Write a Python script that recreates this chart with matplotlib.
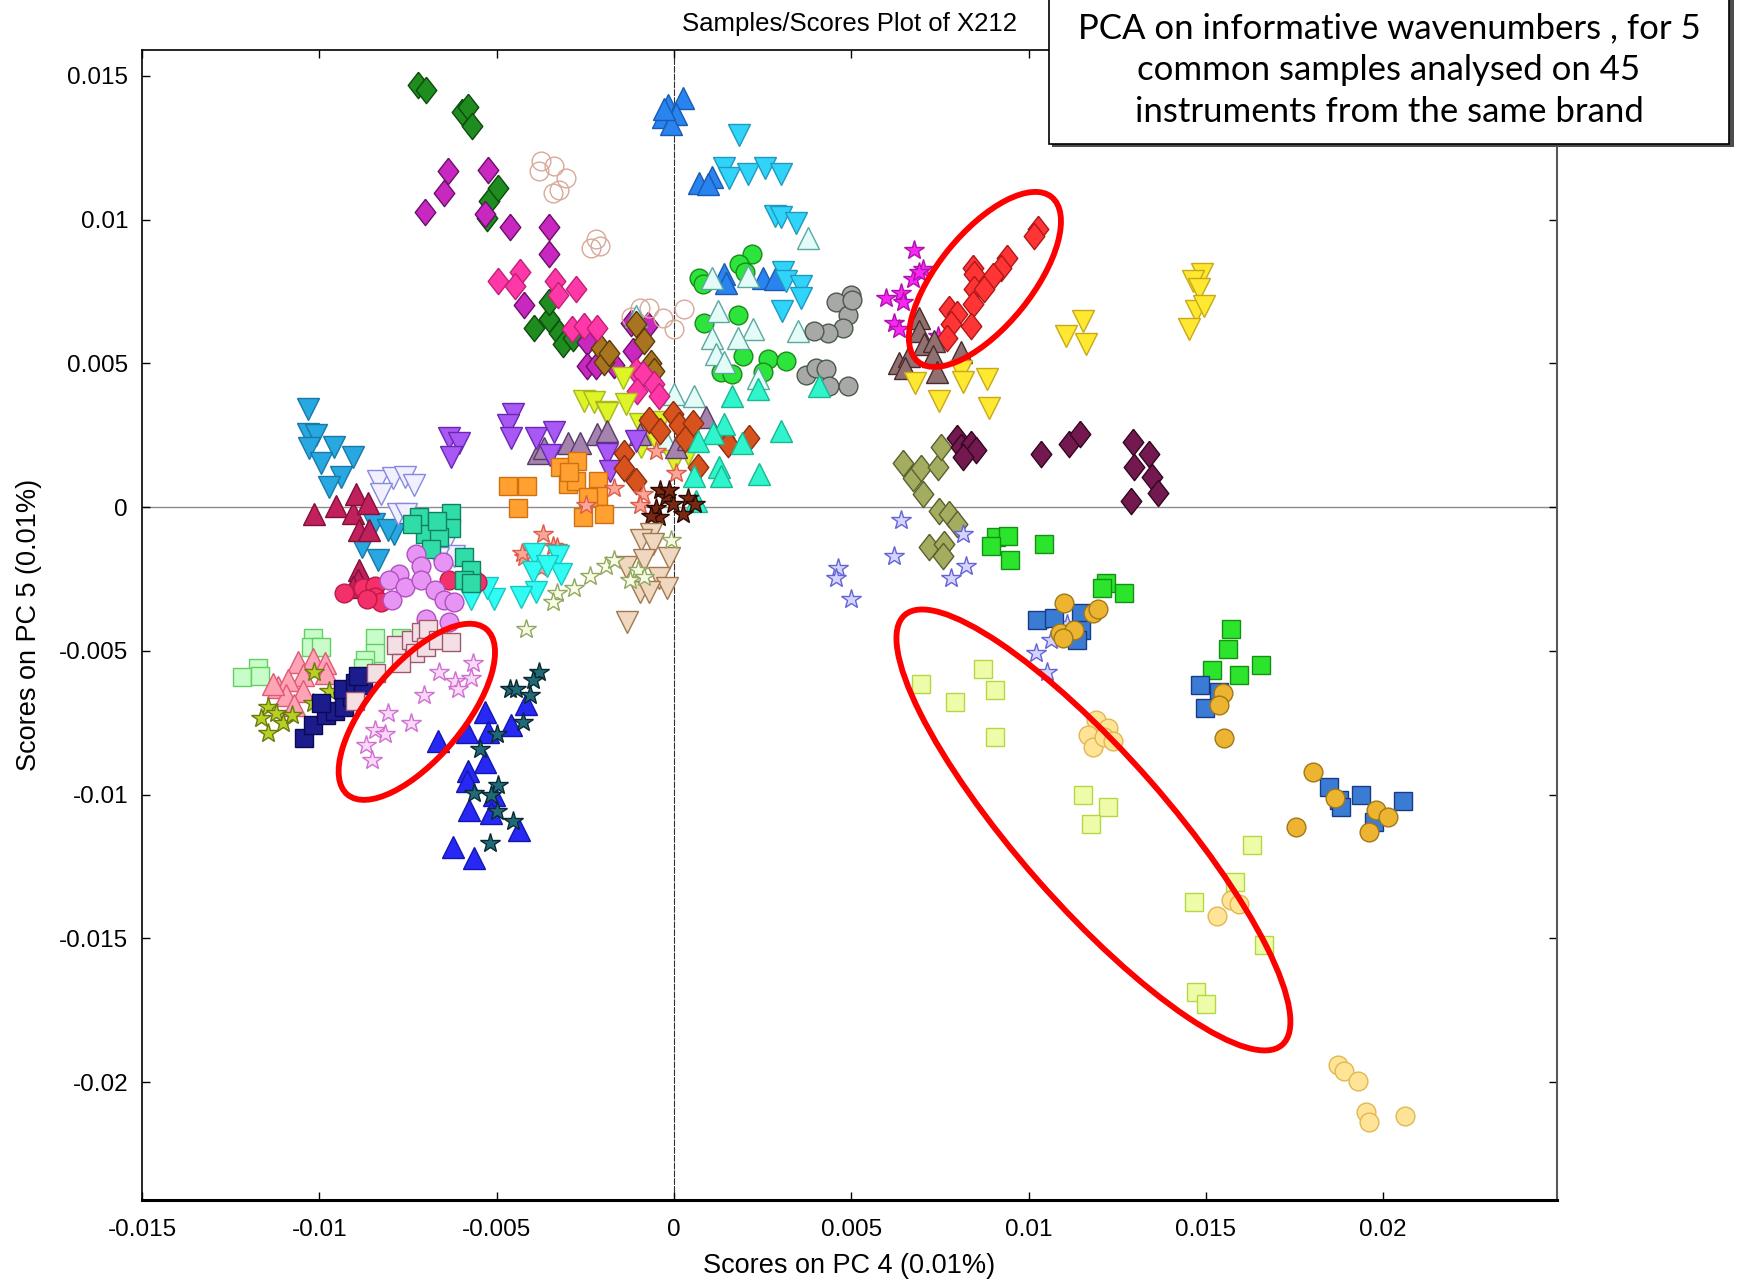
import numpy as np
import matplotlib
matplotlib.use("Agg")
import matplotlib.pyplot as plt
from matplotlib.patches import Ellipse, Rectangle
from matplotlib.transforms import IdentityTransform

# ---- data (scores on PC4 / PC5), one list pair per instrument group ----
dkgreen_dia_x = [-0.00722, -0.00700, -0.00597, -0.00581, -0.00569, -0.00522, -0.00497, -0.00528,
                 -0.00394, -0.00353, -0.00353, -0.00325, -0.00313, -0.00284]
dkgreen_dia_y = [0.01469, 0.01450, 0.01373, 0.01392, 0.01327, 0.01065, 0.01111, 0.01004,
                 0.00623, 0.00654, 0.00712, 0.00604, 0.00569, 0.00588]
magenta_dia_x = [-0.00703, -0.00638, -0.00647, -0.00525, -0.00534, -0.00463, -0.00353, -0.00353,
                 -0.00422, -0.00244, -0.00244, -0.00219, -0.00169, -0.00116, -0.00072, -0.00122]
magenta_dia_y = [0.01027, 0.01169, 0.01092, 0.01173, 0.01019, 0.00973, 0.00973, 0.00881,
                 0.00704, 0.00573, 0.00492, 0.00492, 0.00496, 0.00542, 0.00635, 0.00642]
pink_dia_x = [-0.00497, -0.00434, -0.00447, -0.00334, -0.00275, -0.00328, -0.00288, -0.00253,
              -0.00216, -0.00106, -0.00088, -0.00103, -0.00056, -0.00041]
pink_dia_y = [0.00785, 0.00819, 0.00769, 0.00785, 0.00758, 0.00738, 0.00619, 0.00631,
              0.00623, 0.00473, 0.00462, 0.00404, 0.00427, 0.00388]
brown_dia_x = [-0.00106, -0.00084, -0.00066, -0.00056, -0.00206, -0.00197, -0.00184]
brown_dia_y = [0.00638, 0.00577, 0.00500, 0.00473, 0.00554, 0.00504, 0.00535]
orred_dia_x = [-0.00003, 0.00013, 0.00053, -0.00141, -0.00141, -0.00106, 0.00069, 0.00141,
               0.00153, 0.00213, -0.00069, -0.00038, 0.00031]
orred_dia_y = [0.00323, 0.00285, 0.00292, 0.00188, 0.00135, 0.00092, 0.00138, 0.00242,
               0.00219, 0.00242, 0.00304, 0.00265, 0.00238]
red_dia_x = [0.01028, 0.01016, 0.00938, 0.00922, 0.00900, 0.00844, 0.00847, 0.00847,
             0.00875, 0.00844, 0.00775, 0.00797, 0.00781, 0.00838, 0.00769]
red_dia_y = [0.00969, 0.00942, 0.00865, 0.00831, 0.00804, 0.00831, 0.00812, 0.00758,
             0.00758, 0.00708, 0.00688, 0.00673, 0.00638, 0.00631, 0.00588]
plum_dia_x = [0.01034, 0.01113, 0.01144, 0.01294, 0.01341, 0.01297, 0.01347, 0.01366, 0.01288,
              0.00797, 0.00809, 0.00838, 0.00853, 0.00816]
plum_dia_y = [0.00185, 0.00219, 0.00254, 0.00227, 0.00185, 0.00138, 0.00104, 0.00050, 0.00023,
              0.00242, 0.00208, 0.00219, 0.00200, 0.00173]
olive_dia_x = [0.00647, 0.00675, 0.00697, 0.00744, 0.00753, 0.00703, 0.00747, 0.00775, 0.00797,
               0.00719, 0.00763, 0.00759]
olive_dia_y = [0.00154, 0.00100, 0.00135, 0.00138, 0.00208, 0.00046, -0.00012, -0.00023, -0.00058,
               -0.00138, -0.00127, -0.00169]
blue_up_x = [-0.00016, 0.00025, -0.00031, 0.00006, -0.00009, -0.00028, 0.00072, 0.00106, 0.00097,
             0.00141, 0.00147, 0.00250, 0.00284]
blue_up_y = [0.01400, 0.01423, 0.01358, 0.01369, 0.01331, 0.01385, 0.01127, 0.01150, 0.01123,
             0.00812, 0.00781, 0.00796, 0.00792]
sky_down_x = [0.00184, 0.00141, 0.00156, 0.00209, 0.00256, 0.00303, 0.00284, 0.00303, 0.00344,
              0.00309, 0.00316, 0.00359, 0.00359, 0.00306]
sky_down_y = [0.01296, 0.01181, 0.01146, 0.01158, 0.01181, 0.01158, 0.01012, 0.01008, 0.00988,
              0.00819, 0.00788, 0.00769, 0.00727, 0.00681]
paleteal_up_x = [0.00378, 0.00106, 0.00209, 0.00125, 0.00222, 0.00106, 0.00181, 0.00119, 0.00141,
                 0.00350, -0.00106, 0.00000, 0.00056, -0.00022, 0.00238]
paleteal_up_y = [0.00935, 0.00796, 0.00804, 0.00681, 0.00619, 0.00588, 0.00588, 0.00531, 0.00504,
                 0.00612, 0.00665, 0.00392, 0.00388, 0.00231, 0.00450]
green_circ_x = [0.00072, 0.00081, 0.00219, 0.00184, 0.00200, 0.00181, 0.00084, 0.00194, 0.00266,
                0.00316, 0.00250, 0.00134, 0.00163]
green_circ_y = [0.00796, 0.00777, 0.00881, 0.00846, 0.00819, 0.00669, 0.00642, 0.00527, 0.00515,
                0.00508, 0.00469, 0.00469, 0.00462]
gray_circ_x = [0.00500, 0.00456, 0.00491, 0.00478, 0.00434, 0.00394, 0.00372, 0.00400, 0.00428,
               0.00438, 0.00491, 0.00503]
gray_circ_y = [0.00738, 0.00715, 0.00669, 0.00623, 0.00604, 0.00612, 0.00458, 0.00485, 0.00481,
               0.00423, 0.00423, 0.00719]
open_circ_x = [-0.00375, -0.00338, -0.00303, -0.00381, -0.00341, -0.00325, -0.00219, -0.00234,
               -0.00209, -0.00097, -0.00069, -0.00031, 0.00000, 0.00028, -0.00122]
open_circ_y = [0.01204, 0.01185, 0.01146, 0.01169, 0.01092, 0.01104, 0.00931, 0.00900,
               0.00908, 0.00692, 0.00692, 0.00658, 0.00619, 0.00688, 0.00662]
lime_down_x = [-0.00144, -0.00253, -0.00225, -0.00191, -0.00134, -0.00097, -0.00066, -0.00094,
               0.00000, 0.00041, -0.00188, -0.00053, -0.00038]
lime_down_y = [0.00450, 0.00369, 0.00365, 0.00331, 0.00358, 0.00288, 0.00277, 0.00208,
               0.00162, 0.00185, 0.00327, 0.00238, 0.00296]
purple_down_x = [-0.00634, -0.00606, -0.00628, -0.00453, -0.00469, -0.00459, -0.00388, -0.00338,
                 -0.00350, -0.00188, -0.00181, -0.00106]
purple_down_y = [0.00242, 0.00223, 0.00173, 0.00323, 0.00285, 0.00242, 0.00242, 0.00262,
                 0.00181, 0.00185, 0.00127, 0.00231]
mauve_up_x = [-0.00384, -0.00366, -0.00300, -0.00266, -0.00216, -0.00188, -0.00097, 0.00006,
              0.00091, 0.00041]
mauve_up_y = [0.00188, 0.00204, 0.00223, 0.00223, 0.00254, 0.00265, 0.00254, 0.00208,
              0.00312, 0.00238]
orange_sq_x = [-0.00469, -0.00413, -0.00441, -0.00322, -0.00272, -0.00300, -0.00275, -0.00213,
               -0.00213, -0.00256, -0.00197, -0.00241, -0.00297]
orange_sq_y = [0.00073, 0.00073, -0.00004, 0.00138, 0.00162, 0.00081, 0.00092, 0.00092,
               0.00038, -0.00035, -0.00023, 0.00035, 0.00123]
aqua_up_x = [0.00163, 0.00238, 0.00303, 0.00141, 0.00109, 0.00069, 0.00191, 0.00056, 0.00128,
             0.00134, 0.00241, 0.00063, 0.00409]
aqua_up_y = [0.00388, 0.00412, 0.00265, 0.00288, 0.00258, 0.00231, 0.00223, 0.00108, 0.00138,
             0.00108, 0.00115, 0.00023, 0.00423]
brown_star_x = [-0.00038, -0.00022, -0.00050, -0.00041, -0.00003, 0.00025, 0.00041, 0.00059,
                -0.00066, -0.00013]
brown_star_y = [0.00058, 0.00035, -0.00004, -0.00035, 0.00012, -0.00023, 0.00031, 0.00012,
                -0.00031, 0.00058]
salmon_star_x = [-0.00369, -0.00341, -0.00331, -0.00422, -0.00428, -0.00375, -0.00169, -0.00088,
                 -0.00097, -0.00247, -0.00050, 0.00006]
salmon_star_y = [-0.00092, -0.00135, -0.00138, -0.00173, -0.00158, -0.00212, 0.00065, 0.00046,
                 0.00008, 0.00008, 0.00196, 0.00119]
cyan_down_x = [-0.00394, -0.00328, -0.00397, -0.00319, -0.00388, -0.00431, -0.00506, -0.00528,
               -0.00359, -0.00572]
cyan_down_y = [-0.00162, -0.00169, -0.00227, -0.00231, -0.00296, -0.00312, -0.00319, -0.00281,
               -0.00204, -0.00319]
teal_down_x = [-0.01031, -0.01031, -0.01009, -0.01028, -0.00959, -0.00906, -0.00994, -0.00938,
               -0.00972, -0.00847, -0.00788, -0.00881, -0.00834, -0.00806]
teal_down_y = [0.00342, 0.00254, 0.00250, 0.00204, 0.00208, 0.00173, 0.00154, 0.00104,
               0.00069, -0.00058, -0.00092, -0.00138, -0.00185, -0.00081]
lav_down_x = [-0.00834, -0.00791, -0.00759, -0.00825, -0.00778, -0.00756, -0.00647, -0.00619,
              -0.00666, -0.00734]
lav_down_y = [0.00092, 0.00100, 0.00104, 0.00046, -0.00023, -0.00023, -0.00138, -0.00169,
              -0.00177, 0.00077]
crimson_up_x = [-0.01016, -0.00953, -0.00906, -0.00897, -0.00863, -0.00888, -0.00859, -0.00888,
                -0.00891, -0.00906]
crimson_up_y = [-0.00023, 0.00004, -0.00019, 0.00046, 0.00015, -0.00081, -0.00081, -0.00219,
                -0.00254, -0.00277]
red_circ_x = [-0.00931, -0.00878, -0.00844, -0.00844, -0.00825, -0.00866, -0.00572, -0.00556, -0.00634]
red_circ_y = [-0.00300, -0.00281, -0.00273, -0.00312, -0.00331, -0.00319, -0.00231, -0.00262, -0.00254]
teal_sq_x = [-0.00719, -0.00703, -0.00738, -0.00628, -0.00628, -0.00663, -0.00591, -0.00572,
             -0.00591, -0.00572, -0.00669, -0.00684]
teal_sq_y = [-0.00035, -0.00092, -0.00058, -0.00019, -0.00073, -0.00104, -0.00173, -0.00219,
             -0.00254, -0.00265, -0.00050, -0.00146]
violet_circ_x = [-0.00728, -0.00713, -0.00775, -0.00803, -0.00759, -0.00794, -0.00713, -0.00675,
                 -0.00650, -0.00647, -0.00619, -0.00700, -0.00634]
violet_circ_y = [-0.00162, -0.00204, -0.00231, -0.00254, -0.00277, -0.00323, -0.00254, -0.00288,
                 -0.00192, -0.00323, -0.00331, -0.00388, -0.00400]
mint_sq_x = [-0.01019, -0.01022, -0.00994, -0.01172, -0.01219, -0.01166, -0.00844, -0.00844,
             -0.00872, -0.00878, -0.00769]
mint_sq_y = [-0.00454, -0.00485, -0.00485, -0.00558, -0.00592, -0.00588, -0.00454, -0.00508,
             -0.00531, -0.00558, -0.00454]
pink_up_x = [-0.01059, -0.01019, -0.00984, -0.01047, -0.00981, -0.01116, -0.01088, -0.01094,
             -0.01047, -0.01072, -0.01131]
pink_up_y = [-0.00538, -0.00527, -0.00542, -0.00585, -0.00577, -0.00627, -0.00600, -0.00654,
             -0.00638, -0.00688, -0.00615]
lime_star_x = [-0.01144, -0.01144, -0.01122, -0.01103, -0.01163, -0.01019, -0.00972, -0.01016, -0.01078]
lime_star_y = [-0.00696, -0.00785, -0.00715, -0.00750, -0.00735, -0.00681, -0.00638, -0.00573, -0.00723]
navy_sq_x = [-0.01044, -0.01019, -0.00981, -0.00956, -0.00994, -0.00931, -0.00909, -0.00934,
             -0.00900, -0.00878, -0.00891]
navy_sq_y = [-0.00804, -0.00758, -0.00723, -0.00708, -0.00681, -0.00696, -0.00662, -0.00631,
             -0.00612, -0.00619, -0.00588]
blush_sq_x = [-0.00784, -0.00741, -0.00713, -0.00694, -0.00731, -0.00700, -0.00666, -0.00628,
              -0.00841, -0.00769, -0.00900]
blush_sq_y = [-0.00481, -0.00462, -0.00435, -0.00423, -0.00508, -0.00485, -0.00462, -0.00469,
              -0.00577, -0.00542, -0.00673]
pink_star_x = [-0.00663, -0.00566, -0.00616, -0.00572, -0.00609, -0.00706, -0.00806, -0.00741,
               -0.00844, -0.00816, -0.00869, -0.00850]
pink_star_y = [-0.00573, -0.00542, -0.00604, -0.00596, -0.00631, -0.00654, -0.00715, -0.00750,
               -0.00777, -0.00788, -0.00827, -0.00881]
blue2_up_x = [-0.00534, -0.00416, -0.00584, -0.00525, -0.00459, -0.00666, -0.00534, -0.00581,
              -0.00584, -0.00506, -0.00578, -0.00516, -0.00438, -0.00622, -0.00563]
blue2_up_y = [-0.00712, -0.00685, -0.00781, -0.00781, -0.00758, -0.00812, -0.00885, -0.00919,
              -0.00954, -0.01000, -0.01054, -0.01065, -0.01123, -0.01181, -0.01219]
dkteal_star_x = [-0.00381, -0.00397, -0.00463, -0.00444, -0.00406, -0.00425, -0.00500, -0.00547,
                 -0.00497, -0.00516, -0.00563, -0.00500, -0.00453, -0.00519]
dkteal_star_y = [-0.00573, -0.00600, -0.00631, -0.00631, -0.00654, -0.00746, -0.00788, -0.00842,
                 -0.00965, -0.01000, -0.00996, -0.01058, -0.01092, -0.01169]
cream_star_x = [-0.00009, -0.00100, -0.00125, -0.00084, -0.00191, -0.00238, -0.00281, -0.00331,
                -0.00341, -0.00416, -0.00169]
cream_star_y = [-0.00115, -0.00219, -0.00254, -0.00242, -0.00204, -0.00238, -0.00281, -0.00300,
                -0.00331, -0.00423, -0.00185]
tan_down_x = [-0.00066, -0.00094, -0.00059, -0.00134, -0.00084, -0.00013, -0.00041, -0.00019,
              -0.00097, -0.00069, -0.00131]
tan_down_y = [-0.00092, -0.00115, -0.00127, -0.00208, -0.00185, -0.00177, -0.00246, -0.00281,
              -0.00296, -0.00296, -0.00400]
magenta_star_x = [0.00678, 0.00703, 0.00675, 0.00597, 0.00641, 0.00647, 0.00622, 0.00634, 0.00744, 0.00691]
magenta_star_y = [0.00896, 0.00827, 0.00792, 0.00727, 0.00746, 0.00712, 0.00642, 0.00619, 0.00596, 0.00819]
taupe_up_x = [0.00691, 0.00691, 0.00634, 0.00663, 0.00706, 0.00734, 0.00731, 0.00741, 0.00653, 0.00809]
taupe_up_y = [0.00658, 0.00612, 0.00500, 0.00527, 0.00569, 0.00577, 0.00527, 0.00469, 0.00485, 0.00538]
yellow_down_x = [0.00681, 0.00747, 0.00809, 0.00816, 0.00884, 0.00888, 0.01153, 0.01106, 0.01163,
                 0.01488, 0.01463, 0.01481, 0.01472, 0.01494, 0.01453]
yellow_down_y = [0.00431, 0.00369, 0.00473, 0.00435, 0.00446, 0.00346, 0.00646, 0.00596, 0.00569,
                 0.00812, 0.00785, 0.00758, 0.00681, 0.00700, 0.00619]
lav_star_x = [0.00641, 0.00622, 0.00463, 0.00456, 0.00500, 0.00816, 0.00825, 0.00781, 0.01069,
              0.01063, 0.01022, 0.01053, 0.01109]
lav_star_y = [-0.00046, -0.00169, -0.00212, -0.00246, -0.00319, -0.00092, -0.00204, -0.00246,
              -0.00392, -0.00462, -0.00508, -0.00573, -0.00408]
green_sq_x = [0.00909, 0.00941, 0.00894, 0.00947, 0.01044, 0.01219, 0.01206, 0.01269, 0.01572,
              0.01563, 0.01516, 0.01594, 0.01656]
green_sq_y = [-0.00104, -0.00100, -0.00135, -0.00185, -0.00127, -0.00265, -0.00281, -0.00300,
              -0.00423, -0.00492, -0.00565, -0.00585, -0.00550]
steel_sq_x = [0.01025, 0.01072, 0.01147, 0.01147, 0.01138, 0.01484, 0.01538, 0.01497, 0.01847,
              0.01875, 0.01938, 0.01881, 0.02056, 0.01975]
steel_sq_y = [-0.00392, -0.00385, -0.00369, -0.00427, -0.00462, -0.00619, -0.00642, -0.00700,
              -0.00973, -0.01019, -0.01000, -0.01042, -0.01023, -0.01096]
gold_circ_x = [0.01100, 0.01181, 0.01197, 0.01088, 0.01128, 0.01097, 0.01547, 0.01538, 0.01550,
               0.01803, 0.01863, 0.01981, 0.02013, 0.01959, 0.01753]
gold_circ_y = [-0.00335, -0.00369, -0.00354, -0.00438, -0.00427, -0.00454, -0.00646, -0.00688,
               -0.00804, -0.00923, -0.01012, -0.01054, -0.01077, -0.01131, -0.01112]
paleyel_circ_x = [0.01191, 0.01225, 0.01169, 0.01181, 0.01213, 0.01238, 0.01572, 0.01594, 0.01531,
                  0.01872, 0.01891, 0.01928, 0.01953, 0.01959, 0.02063]
paleyel_circ_y = [-0.00742, -0.00769, -0.00792, -0.00835, -0.00800, -0.00812, -0.01365, -0.01381,
                  -0.01423, -0.01942, -0.01962, -0.01996, -0.02104, -0.02138, -0.02119]
palelime_sq_x = [0.00697, 0.00794, 0.00872, 0.00906, 0.00906, 0.01153, 0.01225, 0.01175, 0.01631,
                 0.01581, 0.01466, 0.01663, 0.01472, 0.01500]
palelime_sq_y = [-0.00615, -0.00677, -0.00562, -0.00635, -0.00800, -0.01000, -0.01042, -0.01104,
                 -0.01177, -0.01304, -0.01373, -0.01523, -0.01685, -0.01727]

# highlighted groups (centre in data units)
ellipse_centres = [(0.00877, 0.00792), (-0.00725, -0.00712), (0.01183, -0.01123)]

# ---- styles ----
DIA = [(0, 1), (0.78, 0), (0, -1), (-0.78, 0), (0, 1)]
SZ = {'D': 19, '^': 16.5, 'v': 16.5, 's': 13, 'o': 13.5, '*': 15}

groups = [
    (dkgreen_dia_x, dkgreen_dia_y, 'D', '#1E8C1E', '#0E4A0E'),
    (magenta_dia_x, magenta_dia_y, 'D', '#C828C0', '#6A1068'),
    (open_circ_x, open_circ_y, 'o', 'none', '#D8A898'),
    (blue_up_x, blue_up_y, '^', '#2A84F0', '#1A5AB0'),
    (sky_down_x, sky_down_y, 'v', '#30D4F8', '#2098C0'),
    (green_circ_x, green_circ_y, 'o', '#2CE43C', '#1A8A1A'),
    (paleteal_up_x, paleteal_up_y, '^', '#E4FCF8', '#5AA8A0'),
    (gray_circ_x, gray_circ_y, 'o', '#A8A8A8', '#4A5A4A'),
    (brown_dia_x, brown_dia_y, 'D', '#A87420', '#5A3A08'),
    (pink_dia_x, pink_dia_y, 'D', '#FF38A8', '#C02078'),
    (lime_down_x, lime_down_y, 'v', '#DCF428', '#A8B818'),
    (mauve_up_x, mauve_up_y, '^', '#A484AC', '#5A3A6A'),
    (purple_down_x, purple_down_y, 'v', '#A858F4', '#6A28B0'),
    (orred_dia_x, orred_dia_y, 'D', '#D8521E', '#8A3010'),
    (aqua_up_x, aqua_up_y, '^', '#30F4CC', '#18B890'),
    (orange_sq_x, orange_sq_y, 's', '#FFA030', '#D07010'),
    (salmon_star_x, salmon_star_y, '*', '#F8A898', '#E05A48'),
    (brown_star_x, brown_star_y, '*', '#7A2812', '#2A0A04'),
    (tan_down_x, tan_down_y, 'v', '#F0D8C0', '#A07850'),
    (cream_star_x, cream_star_y, '*', '#F8FCE4', '#90A860'),
    (cyan_down_x, cyan_down_y, 'v', '#30FCF4', '#18C8C0'),
    (teal_down_x, teal_down_y, 'v', '#28A8E0', '#1878A8'),
    (crimson_up_x, crimson_up_y, '^', '#C0205C', '#801038'),
    (red_circ_x, red_circ_y, 'o', '#F4306A', '#C01848'),
    (lav_down_x, lav_down_y, 'v', '#F0F0FF', '#8888E0'),
    (teal_sq_x, teal_sq_y, 's', '#30DCA8', '#128060'),
    (violet_circ_x, violet_circ_y, 'o', '#E894F4', '#B050C0'),
    (mint_sq_x, mint_sq_y, 's', '#C8FCC8', '#60D060'),
    (pink_up_x, pink_up_y, '^', '#FFA4B4', '#E05878'),
    (lime_star_x, lime_star_y, '*', '#B8D020', '#6A7A10'),
    (navy_sq_x, navy_sq_y, 's', '#1C1C8C', '#0A0A50'),
    (blush_sq_x, blush_sq_y, 's', '#F4E0E4', '#A05870'),
    (pink_star_x, pink_star_y, '*', '#FAD8F8', '#D070D0'),
    (blue2_up_x, blue2_up_y, '^', '#2828F4', '#1414B0'),
    (dkteal_star_x, dkteal_star_y, '*', '#206A78', '#0A2A30'),
    (magenta_star_x, magenta_star_y, '*', '#F828F0', '#B010B0'),
    (red_dia_x, red_dia_y, 'D', '#FF3434', '#B01818'),
    (taupe_up_x, taupe_up_y, '^', '#907070', '#4A2A2A'),
    (yellow_down_x, yellow_down_y, 'v', '#FFE830', '#C8A818'),
    (olive_dia_x, olive_dia_y, 'D', '#A4AC60', '#5A6030'),
    (plum_dia_x, plum_dia_y, 'D', '#741850', '#300820'),
    (lav_star_x, lav_star_y, '*', '#D4D4FF', '#6464D4'),
    (green_sq_x, green_sq_y, 's', '#2CE42C', '#149014'),
    (steel_sq_x, steel_sq_y, 's', '#3A7CD4', '#1A3A88'),
    (gold_circ_x, gold_circ_y, 'o', '#ECB430', '#A07818'),
    (palelime_sq_x, palelime_sq_y, 's', '#EEFCAA', '#B4D840'),
    (paleyel_circ_x, paleyel_circ_y, 'o', '#FFE498', '#E0B850'),
]

plt.rcParams['font.family'] = ['Liberation Sans', 'DejaVu Sans']

fig = plt.figure(figsize=(17.38, 12.79), dpi=100)
ax = fig.add_axes([0.0817, 0.0618, 0.8141, 0.8991])

ax.axhline(0, color='0.55', lw=1.0, zorder=1)
ax.axvline(0, color='0.2', lw=0.8, ls=(0, (6, 1)), zorder=1)

for gx, gy, m, fc, ec in groups:
    mk = DIA if m == 'D' else m
    ax.plot(gx, gy, ls='none', marker=mk, ms=SZ[m], mfc=fc, mec=ec, mew=1.0, zorder=3)

ax.set_xlim(-0.015, 0.0249)
ax.set_ylim(-0.0241, 0.0159)
ax.set_xticks([-0.015, -0.01, -0.005, 0, 0.005, 0.01, 0.015, 0.02])
ax.set_xticklabels(['-0.015', '-0.01', '-0.005', '0', '0.005', '0.01', '0.015', '0.02'])
ax.set_yticks([-0.02, -0.015, -0.01, -0.005, 0, 0.005, 0.01, 0.015])
ax.set_yticklabels(['-0.02', '-0.015', '-0.01', '-0.005', '0', '0.005', '0.01', '0.015'])
ax.tick_params(direction='in', top=True, right=True, length=6, width=1, labelsize=17.5)
ax.tick_params(axis='x', pad=14)
ax.tick_params(axis='y', pad=10)
ax.spines['bottom'].set_linewidth(2.2)
ax.spines['left'].set_linewidth(1.2)
ax.spines['top'].set_linewidth(1.2)
ax.spines['right'].set_color('0.35')
ax.spines['right'].set_linewidth(1.5)

ax.set_xlabel('Scores on PC 4 (0.01%)', fontsize=19.5, labelpad=8)
ax.set_ylabel('Scores on PC 5 (0.01%)', fontsize=19.5, labelpad=12)
ax.set_title('Samples/Scores Plot of X212', fontsize=18.5, pad=14)

# red ellipses drawn in pixel units around the highlighted groups
ell_shape = [(106, 47, 51), (108, 47, -130), (286, 75, -48.7)]
for (cx, cy), (a, b, ang) in zip(ellipse_centres, ell_shape):
    px, py = ax.transData.transform((cx, cy))
    e = Ellipse((px, py), 2 * a, 2 * b, angle=ang, fill=False, ec='#FF0000', lw=4.2,
                transform=IdentityTransform(), zorder=5, clip_on=False)
    ax.add_patch(e)

# annotation box, top right
fig.patches.append(Rectangle((0.6055, 0.8850), 0.3920, 0.12, transform=fig.transFigure,
                             fc='0.3', ec='none', zorder=9))
fig.patches.append(Rectangle((0.6036, 0.8874), 0.3913, 0.12, transform=fig.transFigure,
                             fc='white', ec='black', lw=1.2, zorder=10))
fig.text(0.7992, 0.9455, 'PCA on informative wavenumbers , for 5\ncommon samples analysed on 45\n'
         'instruments from the same brand', ha='center', va='center', fontsize=25,
         family=['Lato', 'DejaVu Sans'], linespacing=1.38, zorder=11)

fig.savefig('out.png', dpi=100)
